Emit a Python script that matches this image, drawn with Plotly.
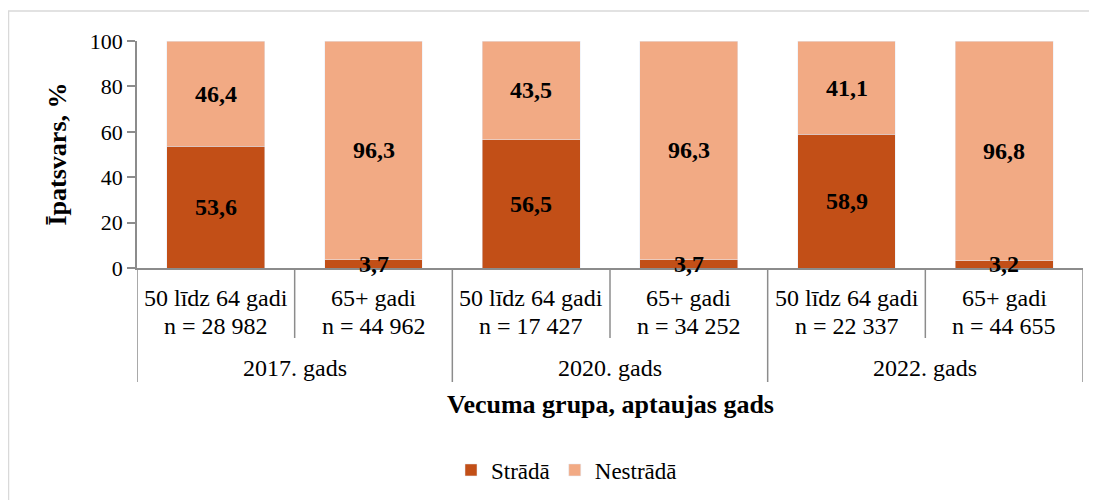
import plotly.graph_objects as go

# --- dati ---
vecuma_grupas = ['50 līdz 64 gadi', '65+ gadi', '50 līdz 64 gadi', '65+ gadi', '50 līdz 64 gadi', '65+ gadi']
n_skaits = ['28 982', '44 962', '17 427', '34 252', '22 337', '44 655']
gadi = ['2017. gads', '2020. gads', '2022. gads']
strada = [53.6, 3.7, 56.5, 3.7, 58.9, 3.2]
nestrada = [46.4, 96.3, 43.5, 96.3, 41.1, 96.8]
y_ticks = [0, 20, 40, 60, 80, 100]

FONT = 'Liberation Serif, Times New Roman, Times, serif'
DARK = '#C24F17'
LIGHT = '#F2AA84'
AXIS = '#8C8C8C'

# lapas body atkāpe (8 px) - koordinātas ņemtas no lapas pikseļiem
OFF = 8
W, H = 1097, 500
L, R, T, B = 137 - OFF, 1097 - (1083 - OFF), 41 - OFF, 500 - (268 - OFF)
PH = H - T - B
PW = W - L - R


def py(px):
    # lapas pikseļa y -> paper koordināta
    return (H - B - (px - OFF)) / PH


def px_x(px):
    return (px - OFF - L) / PW


def fmt(v):
    return f'{v:.1f}'.replace('.', ',')


def txt(size=24, **kw):
    d = dict(showarrow=False, xanchor='center', yanchor='middle',
             font=dict(family=FONT, size=size, color='black'))
    d.update(kw)
    return d


x = list(range(len(strada)))

fig = go.Figure()
fig.add_trace(go.Bar(x=x, y=strada, name='Strādā', marker_color=DARK, width=0.62))
fig.add_trace(go.Bar(x=x, y=nestrada, name='Nestrādā', marker_color=LIGHT, width=0.62))

ann = []
# datu etiķetes
for i in x:
    ann.append(txt(x=i, y=strada[i] / 2, xref='x', yref='y', text=f'<b>{fmt(strada[i])}</b>'))
    ann.append(txt(x=i, y=strada[i] + nestrada[i] / 2, xref='x', yref='y', text=f'<b>{fmt(nestrada[i])}</b>'))
# kategoriju etiķetes
for i in x:
    ann.append(txt(x=i, y=py(298), xref='x', yref='paper', text=vecuma_grupas[i]))
    ann.append(txt(x=i, y=py(326), xref='x', yref='paper', text=f'n = {n_skaits[i]}'))
for k, g in enumerate(gadi):
    ann.append(txt(x=2 * k + 0.5, y=py(368), xref='x', yref='paper', text=g))
ann.append(txt(size=26, x=0.5, y=py(404), xref='paper', yref='paper', text='<b>Vecuma grupa, aptaujas gads</b>'))
ann.append(txt(size=26, x=px_x(57), y=0.5, xref='paper', yref='paper', text='<b>Īpatsvars, %</b>', textangle=-90))

shapes = []
for k in range(len(x) + 1):
    xb = k - 0.5
    bottom = 382 if k % 2 == 0 else 338
    shapes.append(dict(type='line', xref='x', yref='paper', x0=xb, x1=xb, y0=0, y1=py(bottom),
                       line=dict(color=AXIS, width=1.5)))
# rāmis
shapes.append(dict(type='rect', xref='paper', yref='paper', x0=px_x(OFF + 0.5), x1=px_x(1300),
                   y0=py(11), y1=py(700), line=dict(color='#D9D9D9', width=1.5), layer='below'))

fig.update_layout(
    barmode='stack',
    width=W, height=H,
    margin=dict(l=L, r=R, t=T, b=B, autoexpand=False),
    plot_bgcolor='white', paper_bgcolor='white',
    font=dict(family=FONT, size=22, color='black'),
    annotations=ann, shapes=shapes,
    legend=dict(orientation='h', x=px_x(451), xanchor='left', xref='paper', y=py(470), yanchor='middle',
                font=dict(family=FONT, size=23, color='black'), traceorder='normal',
                itemwidth=30, tracegroupgap=0),
    xaxis=dict(range=[-0.5, 5.5], showticklabels=False, ticks='', showline=True, linecolor=AXIS,
               linewidth=1.5, showgrid=False, zeroline=False, automargin=False),
    yaxis=dict(range=[0, 100], tickvals=y_ticks, ticks='outside', ticklen=8, tickcolor=AXIS, tickwidth=1.5,
               showline=True, linecolor=AXIS, linewidth=1.5, showgrid=False, zeroline=False, automargin=False,
               tickfont=dict(family=FONT, size=22, color='black')),
)

fig.write_html('out.html')
